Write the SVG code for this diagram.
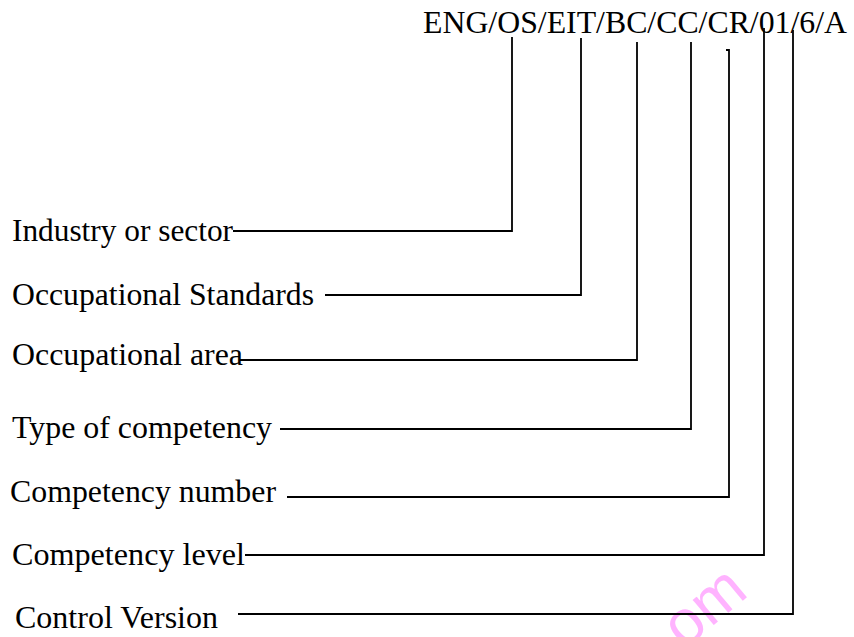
<svg xmlns="http://www.w3.org/2000/svg" width="854" height="637" viewBox="0 0 854 637">
<style>
.t{font-family:"Liberation Serif","Times New Roman",serif;font-size:32px;fill:#000}
.c{fill:none;stroke:#000;stroke-width:1.8;stroke-linecap:butt;stroke-linejoin:miter}
.wm{font-family:"Liberation Sans",Arial,sans-serif;font-size:62px;fill:#ffb3ff}
</style>
<rect width="854" height="637" fill="#fff"/>
<g id="watermark"><text class="wm" transform="translate(684 650) rotate(-40)">om</text></g>
<g id="code"><text class="t" x="423" y="33" textLength="424" lengthAdjust="spacingAndGlyphs">ENG/OS/EIT/BC/CC/CR/01/6/A</text></g>
<g id="industry"><text class="t" x="12" y="241" textLength="221" lengthAdjust="spacingAndGlyphs">Industry or sector</text></g>
<g id="standards"><text class="t" x="12" y="305" textLength="302" lengthAdjust="spacingAndGlyphs">Occupational Standards</text></g>
<g id="area"><text class="t" x="12" y="365" textLength="231" lengthAdjust="spacingAndGlyphs">Occupational area</text></g>
<g id="type"><text class="t" x="12" y="438" textLength="260" lengthAdjust="spacingAndGlyphs">Type of competency</text></g>
<g id="number"><text class="t" x="10" y="502" textLength="266" lengthAdjust="spacingAndGlyphs">Competency number</text></g>
<g id="level"><text class="t" x="12" y="565" textLength="233" lengthAdjust="spacingAndGlyphs">Competency level</text></g>
<g id="version"><text class="t" x="15" y="628" textLength="203" lengthAdjust="spacingAndGlyphs">Control Version</text></g>
<g id="connectors">
<polyline class="c" points="233,231 512,231 512,37"/>
<polyline class="c" points="325,295 581,295 581,38"/>
<polyline class="c" points="240,360 637,360 637,42"/>
<polyline class="c" points="280,429 691,429 691,42"/>
<polyline class="c" points="287,497 729,497 729,50 726,50"/>
<polyline class="c" points="245,555 764,555 764,28"/>
<polyline class="c" points="238,614 793,614 793,30"/>
</g>
</svg>
